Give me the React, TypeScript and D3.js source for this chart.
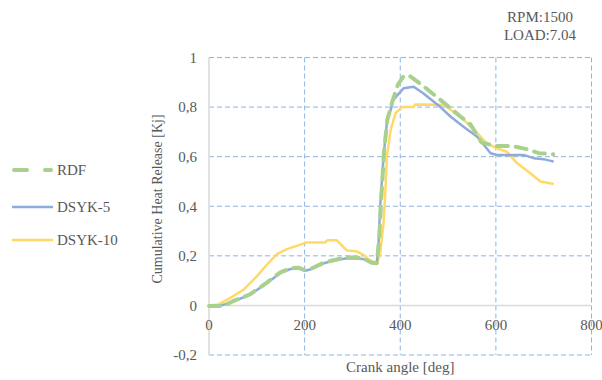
import React, { useRef, useEffect } from 'react';
import * as d3 from 'd3';

// crank angle [deg] / cumulative heat release [kJ]
const rdfAngle = [0, 30, 51, 86, 121, 149, 170, 187, 201, 215, 240, 260, 288, 323, 340, 351, 356, 360, 366, 373, 383, 395, 407, 418, 445, 484, 526, 547, 570, 600, 635, 665, 690, 720];
const rdfHeat = [-0.002, -0.002, 0.018, 0.045, 0.092, 0.133, 0.15, 0.152, 0.142, 0.15, 0.172, 0.182, 0.195, 0.19, 0.172, 0.17, 0.27, 0.42, 0.62, 0.75, 0.82, 0.89, 0.925, 0.928, 0.89, 0.829, 0.762, 0.73, 0.657, 0.643, 0.643, 0.63, 0.614, 0.61];

const dsyk5Angle = [0, 26, 51, 86, 121, 149, 170, 187, 201, 215, 240, 260, 288, 323, 340, 351, 355, 358, 365, 372, 386, 407, 428, 448, 484, 505, 533, 561, 589, 602, 658, 679, 700, 721];
const dsyk5Heat = [0, 0, 0.016, 0.043, 0.09, 0.13, 0.147, 0.15, 0.14, 0.147, 0.17, 0.18, 0.19, 0.187, 0.173, 0.173, 0.265, 0.4, 0.6, 0.735, 0.83, 0.876, 0.882, 0.856, 0.8, 0.762, 0.72, 0.68, 0.614, 0.607, 0.607, 0.594, 0.59, 0.58];

const dsyk10Angle = [0, 20, 44, 72, 100, 121, 142, 163, 191, 205, 243, 248, 267, 288, 309, 323, 337, 352, 358, 365, 369, 372, 380, 390, 404, 428, 431, 491, 505, 533, 561, 581, 602, 623, 644, 672, 693, 721];
const dsyk10Heat = [0, 0.004, 0.03, 0.063, 0.117, 0.164, 0.207, 0.227, 0.245, 0.254, 0.254, 0.263, 0.263, 0.222, 0.218, 0.204, 0.181, 0.171, 0.21, 0.33, 0.466, 0.6, 0.708, 0.775, 0.8, 0.8, 0.81, 0.809, 0.79, 0.748, 0.695, 0.654, 0.634, 0.62, 0.574, 0.533, 0.5, 0.49];

const xTicks = [0, 200, 400, 600, 800];
const yTicks = [-0.2, 0, 0.2, 0.4, 0.6, 0.8, 1];

const seriesNames = ['RDF', 'DSYK-5', 'DSYK-10'];

const App: React.FC = () => {
  const svgRef = useRef<SVGSVGElement | null>(null);

  useEffect(() => {
    document.body.style.margin = '0';
    const svg = d3.select(svgRef.current);
    svg.selectAll('*').remove();
    const width = 602;
    const height = 380;
    const font = 'Liberation Serif, Times New Roman, serif';
    const textColor = '#595959';
    const gridColor = '#8DB4E2';

    svg.attr('width', width).attr('height', height).style('background', '#fff').style('display', 'block');

    const x = d3.scaleLinear().domain([0, 800]).range([209, 591.5]);
    const y = d3.scaleLinear().domain([-0.2, 1]).range([355, 57.5]);

    const fmt = (v: number) =>
      v === 0 || v === 1 ? String(v) : d3.format('.1f')(v).replace('.', ',').replace('\u2212', '-');

    // gridlines
    svg.append('g')
      .selectAll('line')
      .data(yTicks.filter(t => t !== 0))
      .enter()
      .append('line')
      .attr('x1', x(0))
      .attr('x2', x(800))
      .attr('y1', d => y(d))
      .attr('y2', d => y(d))
      .attr('stroke', gridColor)
      .attr('stroke-width', 1)
      .attr('stroke-dasharray', '5,3');

    svg.append('g')
      .selectAll('line')
      .data(xTicks.filter(t => t !== 0))
      .enter()
      .append('line')
      .attr('x1', d => x(d))
      .attr('x2', d => x(d))
      .attr('y1', y(1))
      .attr('y2', y(-0.2))
      .attr('stroke', gridColor)
      .attr('stroke-width', 1)
      .attr('stroke-dasharray', '5,3');

    // axes lines
    svg.append('line')
      .attr('x1', x(0)).attr('x2', x(0))
      .attr('y1', y(1)).attr('y2', y(-0.2))
      .attr('stroke', '#D9D9D9').attr('stroke-width', 1.5);
    svg.append('line')
      .attr('x1', x(0)).attr('x2', x(800))
      .attr('y1', y(0)).attr('y2', y(0))
      .attr('stroke', '#D9D9D9').attr('stroke-width', 1.5);

    // tick labels
    svg.append('g')
      .selectAll('text')
      .data(yTicks)
      .enter()
      .append('text')
      .attr('x', 197)
      .attr('y', d => y(d))
      .attr('dy', '0.35em')
      .attr('text-anchor', 'end')
      .style('font-family', font)
      .style('font-size', '15px')
      .style('fill', textColor)
      .text(d => fmt(d));

    svg.append('g')
      .selectAll('text')
      .data(xTicks)
      .enter()
      .append('text')
      .attr('x', d => x(d))
      .attr('y', 330)
      .attr('text-anchor', 'middle')
      .style('font-family', font)
      .style('font-size', '15px')
      .style('fill', textColor)
      .text(d => String(d));

    // axis titles
    svg.append('text')
      .attr('x', x(400))
      .attr('y', 372)
      .attr('text-anchor', 'middle')
      .style('font-family', font)
      .style('font-size', '15px')
      .style('fill', textColor)
      .text('Crank angle [deg]');

    svg.append('text')
      .attr('transform', `translate(162, 199) rotate(-90)`)
      .attr('text-anchor', 'middle')
      .style('font-family', font)
      .style('font-size', '14px')
      .style('fill', textColor)
      .text('Cumulative Heat Release [Kj]');

    // conditions
    svg.append('text')
      .attr('x', 540).attr('y', 22)
      .attr('text-anchor', 'middle')
      .style('font-family', font).style('font-size', '15px').style('fill', textColor)
      .text('RPM:1500');
    svg.append('text')
      .attr('x', 540).attr('y', 40)
      .attr('text-anchor', 'middle')
      .style('font-family', font).style('font-size', '15px').style('fill', textColor)
      .text('LOAD:7.04');

    const line = d3.line<[number, number]>()
      .x(d => x(d[0]))
      .y(d => y(d[1]));

    const series = [
      { name: seriesNames[0], pts: rdfAngle.map((a, i) => [a, rdfHeat[i]] as [number, number]), color: '#A9D18E', width: 4, dash: '11,8' },
      { name: seriesNames[1], pts: dsyk5Angle.map((a, i) => [a, dsyk5Heat[i]] as [number, number]), color: '#8FAADC', width: 2.5, dash: null },
      { name: seriesNames[2], pts: dsyk10Angle.map((a, i) => [a, dsyk10Heat[i]] as [number, number]), color: '#FFD966', width: 2.5, dash: null }
    ];

    // draw yellow first, then blue, green on top
    [series[2], series[1], series[0]].forEach(s => {
      svg.append('path')
        .datum(s.pts)
        .attr('d', line)
        .attr('fill', 'none')
        .attr('stroke', s.color)
        .attr('stroke-width', s.width)
        .attr('stroke-linecap', s.dash ? 'round' : 'butt')
        .attr('stroke-linejoin', 'round')
        .attr('stroke-dasharray', s.dash);
    });

    // legend
    const legendY = [170, 207, 240];
    series.forEach((s, i) => {
      svg.append('line')
        .attr('x1', s.dash ? 14 : 12).attr('x2', s.dash ? 51 : 53)
        .attr('y1', legendY[i]).attr('y2', legendY[i])
        .attr('stroke', s.color)
        .attr('stroke-width', s.width)
        .attr('stroke-linecap', s.dash ? 'round' : 'butt')
        .attr('stroke-dasharray', s.dash ? '13,18' : null);
      svg.append('text')
        .attr('x', 57)
        .attr('y', legendY[i])
        .attr('dy', '0.35em')
        .style('font-family', font)
        .style('font-size', '15px')
        .style('fill', textColor)
        .text(s.name);
    });
  }, []);

  return <svg ref={svgRef}></svg>;
};

export default App;
